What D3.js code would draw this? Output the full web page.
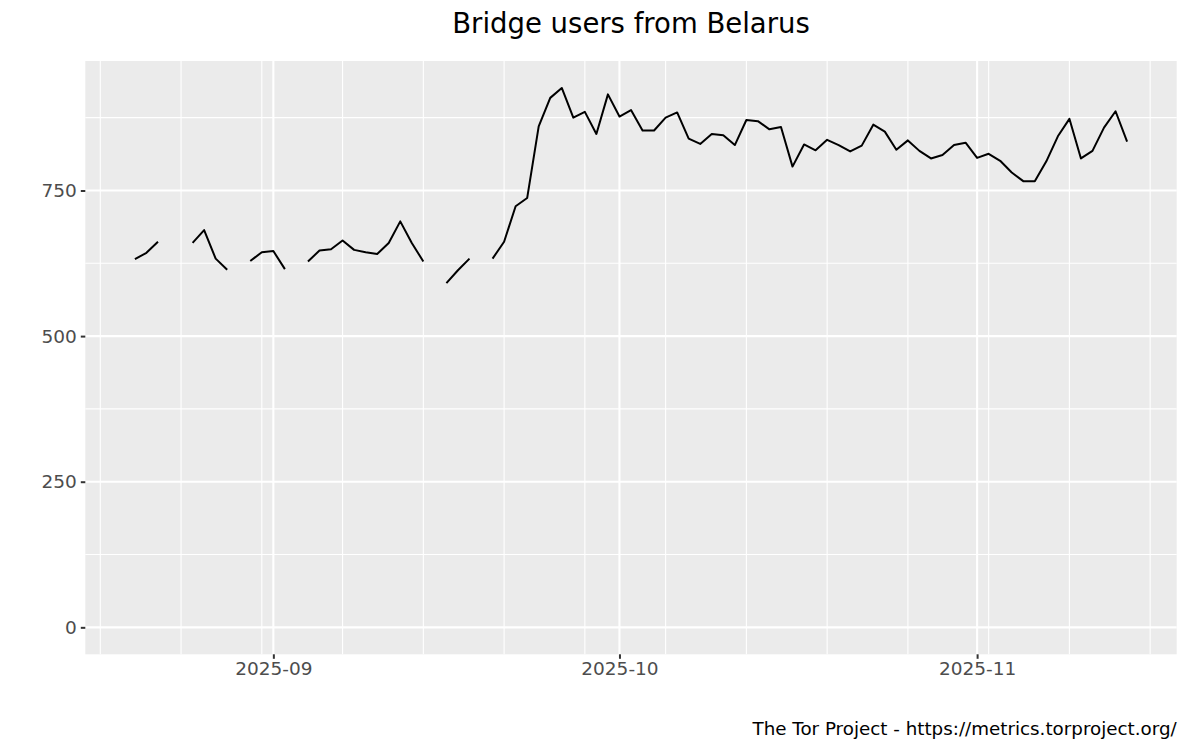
<!DOCTYPE html>
<html>
<head>
<meta charset="utf-8">
<script src="https://cdn.jsdelivr.net/npm/d3@7"></script>
<style>
  html, body { margin: 0; padding: 0; background: #ffffff; }
  svg { display: block; font-family: "DejaVu Sans", sans-serif; }
</style>
</head>
<body>
<svg id="chart" width="1200" height="750"></svg>
<script>
// ---- data ----
const title = "Bridge users from Belarus";
const caption = "The Tor Project - https://metrics.torproject.org/";

const dates = [
  "2025-08-20","2025-08-21","2025-08-22","2025-08-23","2025-08-24","2025-08-25","2025-08-26","2025-08-27","2025-08-28","2025-08-29","2025-08-30","2025-08-31",
  "2025-09-01","2025-09-02","2025-09-03","2025-09-04","2025-09-05","2025-09-06","2025-09-07","2025-09-08","2025-09-09","2025-09-10",
  "2025-09-11","2025-09-12","2025-09-13","2025-09-14","2025-09-15","2025-09-16","2025-09-17","2025-09-18","2025-09-19","2025-09-20",
  "2025-09-21","2025-09-22","2025-09-23","2025-09-24","2025-09-25","2025-09-26","2025-09-27","2025-09-28","2025-09-29","2025-09-30",
  "2025-10-01","2025-10-02","2025-10-03","2025-10-04","2025-10-05","2025-10-06","2025-10-07","2025-10-08","2025-10-09","2025-10-10",
  "2025-10-11","2025-10-12","2025-10-13","2025-10-14","2025-10-15","2025-10-16","2025-10-17","2025-10-18","2025-10-19","2025-10-20",
  "2025-10-21","2025-10-22","2025-10-23","2025-10-24","2025-10-25","2025-10-26","2025-10-27","2025-10-28","2025-10-29","2025-10-30","2025-10-31",
  "2025-11-01","2025-11-02","2025-11-03","2025-11-04","2025-11-05","2025-11-06","2025-11-07","2025-11-08","2025-11-09","2025-11-10",
  "2025-11-11","2025-11-12","2025-11-13","2025-11-14"
];
const users = [
  632, 643, 662, null, null, 660, 682, 633, 614, null, 629, 644,
  646, 615, null, 628, 647, 649, 664, 648, 644, 641,
  660, 697, 660, 628, null, 591, 613, 633, null, 633,
  662, 723, 737, 860, 909, 926, 875, 885, 847, 915,
  877, 888, 853, 853, 875, 884, 839, 830, 847, 845,
  828, 871, 869, 855, 859, 791, 829, 819, 837, 828,
  817, 827, 863, 851, 820, 836, 818, 805, 811, 828, 832,
  806, 813, 801, 781, 766, 766, 800, 843, 873, 805,
  818, 858, 886, 834
];
const yTicks = [0, 250, 500, 750];
const yMinorTicks = [125, 375, 625, 875];
const xTickLabels = ["2025-09", "2025-10", "2025-11"];

// ---- layout ----
const panel = { left: 85.3, right: 1176.7, top: 61, bottom: 654.3 };
const svg = d3.select("#chart");
const parse = d3.utcParse("%Y-%m-%d");
const data = dates.map((d, i) => ({ date: parse(d), value: users[i] }));

const ext = d3.extent(data, d => d.date);
const span = ext[1] - ext[0];
const x = d3.scaleUtc()
  .domain([new Date(+ext[0] - span * 0.05), new Date(+ext[1] + span * 0.05)])
  .range([panel.left, panel.right]);

const ymax = d3.max(users);
const y = d3.scaleLinear()
  .domain([-0.05 * ymax, ymax * 1.05])
  .range([panel.bottom, panel.top]);

// panel background
svg.append("rect")
  .attr("x", panel.left).attr("y", panel.top)
  .attr("width", panel.right - panel.left).attr("height", panel.bottom - panel.top)
  .attr("fill", "#EBEBEB");

const grid = svg.append("g");
// minor gridlines
const weekBreaks = d3.utcSunday.range(x.domain()[0], x.domain()[1]);
grid.selectAll(".vminor").data(weekBreaks).join("line")
  .attr("x1", d => x(d)).attr("x2", d => x(d))
  .attr("y1", panel.top).attr("y2", panel.bottom)
  .attr("stroke", "#ffffff").attr("stroke-width", 1.1);
grid.selectAll(".hminor").data(yMinorTicks).join("line")
  .attr("x1", panel.left).attr("x2", panel.right)
  .attr("y1", d => y(d)).attr("y2", d => y(d))
  .attr("stroke", "#ffffff").attr("stroke-width", 1.1);
// major gridlines
const monthBreaks = xTickLabels.map(s => d3.utcParse("%Y-%m")(s));
grid.selectAll(".vmajor").data(monthBreaks).join("line")
  .attr("x1", d => x(d)).attr("x2", d => x(d))
  .attr("y1", panel.top).attr("y2", panel.bottom)
  .attr("stroke", "#ffffff").attr("stroke-width", 2.1);
grid.selectAll(".hmajor").data(yTicks).join("line")
  .attr("x1", panel.left).attr("x2", panel.right)
  .attr("y1", d => y(d)).attr("y2", d => y(d))
  .attr("stroke", "#ffffff").attr("stroke-width", 2.1);

// line
const line = d3.line()
  .defined(d => d.value !== null)
  .x(d => x(d.date))
  .y(d => y(d.value));
svg.append("path")
  .datum(data)
  .attr("d", line)
  .attr("fill", "none")
  .attr("stroke", "#000000")
  .attr("stroke-width", 2)
  .attr("stroke-linejoin", "round");

// y axis
const yAxis = d3.axisLeft(y).tickValues(yTicks).tickSize(4.5).tickPadding(4);
const yg = svg.append("g").attr("transform", `translate(${panel.left},0)`).call(yAxis);
yg.select(".domain").remove();
yg.selectAll(".tick line").attr("stroke", "#333333").attr("stroke-width", 2);
yg.selectAll(".tick text").attr("fill", "#4D4D4D").attr("font-size", 18.5)
  .attr("font-family", "DejaVu Sans");

// x axis
const xAxis = d3.axisBottom(x).tickValues(monthBreaks)
  .tickFormat((d, i) => xTickLabels[i]).tickSize(4.5).tickPadding(3);
const xg = svg.append("g").attr("transform", `translate(0,${panel.bottom})`).call(xAxis);
xg.select(".domain").remove();
xg.selectAll(".tick line").attr("stroke", "#333333").attr("stroke-width", 2);
xg.selectAll(".tick text").attr("fill", "#4D4D4D").attr("font-size", 18.5)
  .attr("font-family", "DejaVu Sans");

// title
svg.append("text")
  .attr("x", (panel.left + panel.right) / 2).attr("y", 33)
  .attr("text-anchor", "middle")
  .attr("font-size", 27.5)
  .attr("fill", "#000000")
  .text(title);

// caption
svg.append("text")
  .attr("x", panel.right).attr("y", 735)
  .attr("text-anchor", "end")
  .attr("font-size", 18.3)
  .attr("fill", "#000000")
  .text(caption);
</script>
</body>
</html>
